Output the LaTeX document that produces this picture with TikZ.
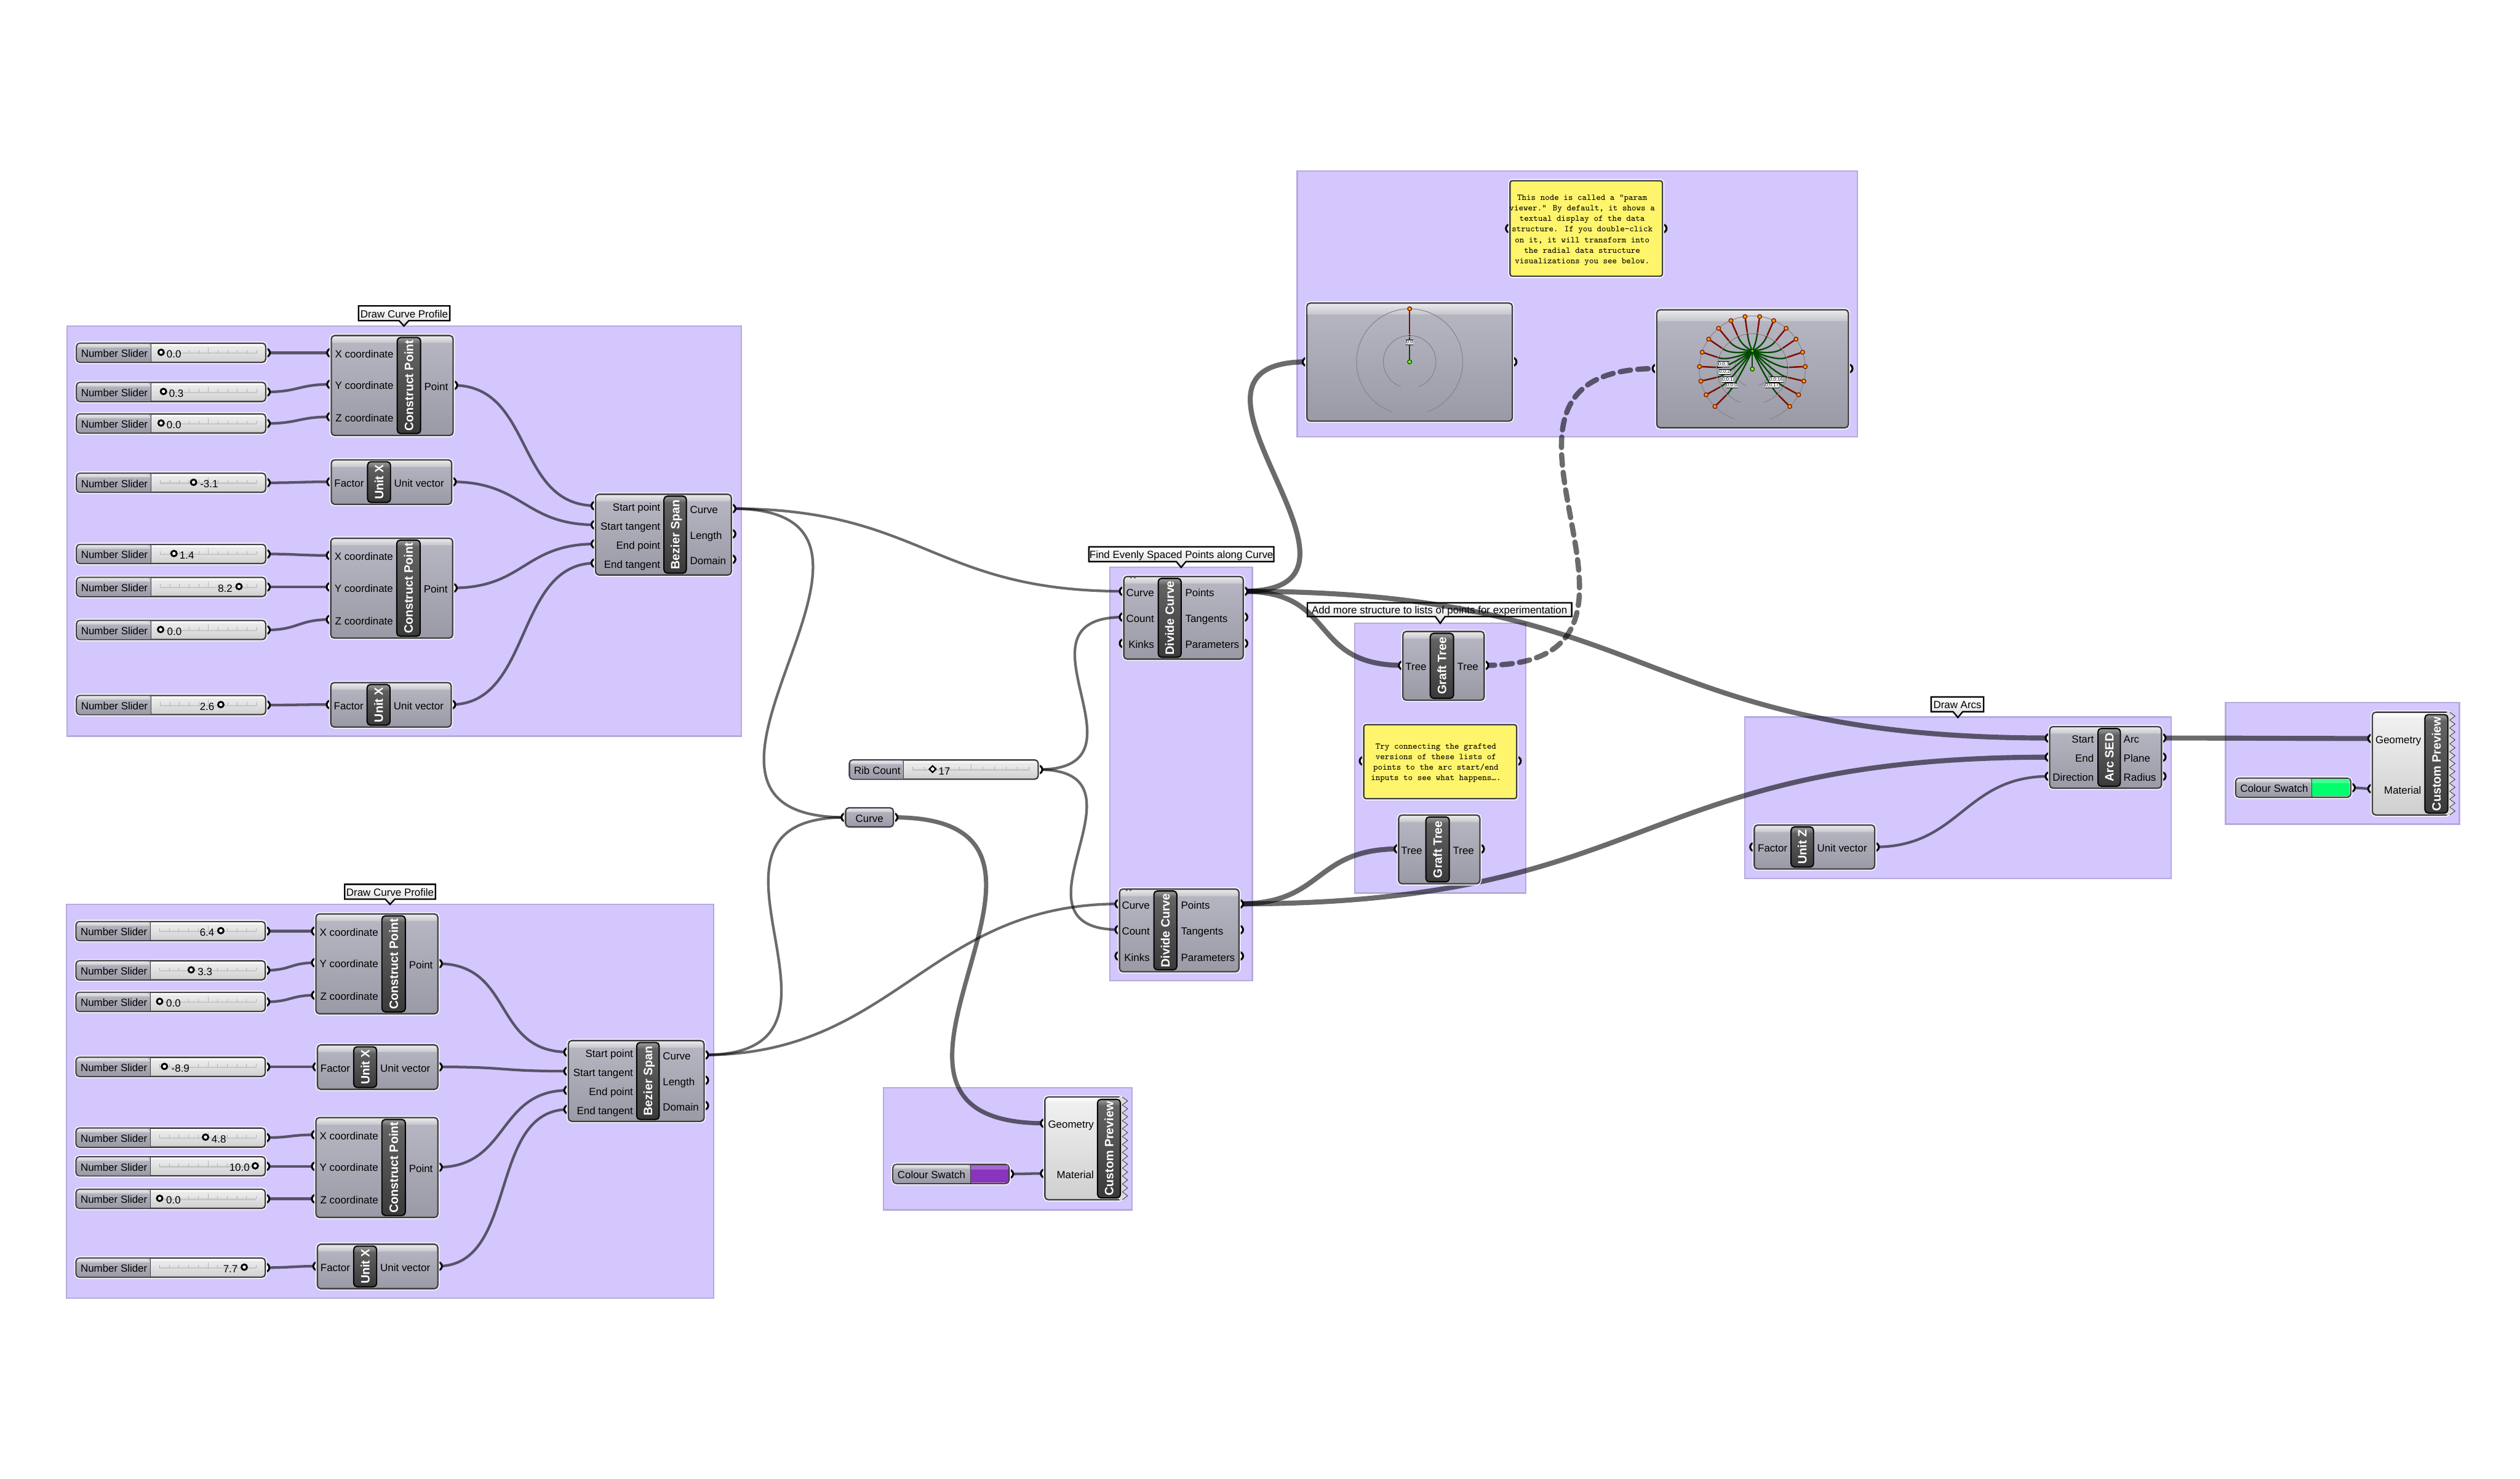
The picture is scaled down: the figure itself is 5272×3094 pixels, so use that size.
\documentclass[tikz,border=0pt]{standalone}
\usepackage{fontspec}
\setmainfont{Liberation Sans}
\usetikzlibrary{calc}
\pgfdeclarelayer{bg}\pgfdeclarelayer{wir}\pgfdeclarelayer{prt}
\pgfsetlayers{bg,wir,prt,main}
\definecolor{grp}{HTML}{D4C7FD}
\definecolor{grpedge}{HTML}{B5ABDD}
\definecolor{edge}{HTML}{404044}
\definecolor{gtop}{HTML}{B8B8C4}
\definecolor{gbot}{HTML}{9A9AA6}
\definecolor{htop}{HTML}{E8E8EA}
\definecolor{hbot}{HTML}{C6C6CC}
\definecolor{ltop}{HTML}{F2F2F2}
\definecolor{lbot}{HTML}{CFCFCF}
\definecolor{bartop}{HTML}{666666}
\definecolor{barbot}{HTML}{3A3A3A}
\definecolor{noteyel}{HTML}{FFF56C}
\definecolor{gwire}{HTML}{004A00}
\definecolor{rwire}{HTML}{7A0E00}
\definecolor{tipor}{HTML}{FFA000}
\definecolor{hubgr}{HTML}{90EE20}
\definecolor{ringc}{HTML}{85858F}
\definecolor{purp}{HTML}{8A33BE}
\definecolor{mint}{HTML}{00FF6E}
\tikzset{
 group/.style={rectangle,inner sep=0,fill=grp,draw=grpedge,line width=.03cm},
 tagst/.style={top color=white,bottom color=black!14,draw=black,line width=.03cm},
 body/.style={rectangle,inner sep=0,rounded corners=.07cm,draw=edge,line width=.03cm,top color=gtop,bottom color=gbot,preaction={draw=white,line width=.07cm}},
 lightbody/.style={body,top color=ltop,bottom color=lbot},
 notest/.style={rectangle,inner sep=0,rounded corners=.05cm,draw=edge,line width=.03cm,fill=noteyel,preaction={draw=white,line width=.07cm}},
 barst/.style={rectangle,inner sep=0,rounded corners=.07cm,draw=black,line width=.025cm,top color=bartop,bottom color=barbot},
 port/.style={circle,inner sep=0,minimum size=.17cm,draw=black,fill=white,line width=.04cm},
 lbl/.style={inner sep=0,yshift=-.025cm,text=black,font=\fontsize{6.2}{7.4}\selectfont,text height=.16cm,text depth=.04cm},
 bartxt/.style={inner sep=0,text=white,rotate=90,font=\fontsize{7.2}{8}\selectfont\bfseries,text height=.18cm,text depth=.0cm},
 notetxt/.style={inner sep=0,yshift=-.025cm,align=center,text=black,font=\ttfamily\fontsize{5.2}{6.26}\selectfont},
 wirest/.style={draw=black,draw opacity=.58,line width=.055cm},
 fat/.style={line width=.105cm},
 mid/.style={line width=.09cm},
 dashwire/.style={line width=.11cm,dash pattern=on .22cm off .15cm,line cap=round},
 ring/.style={circle,inner sep=0,minimum size=.115cm,draw=black,fill=white,line width=.038cm},
 tick/.style={draw=black!30,line width=.012cm},
 tipn/.style={circle,inner sep=0,minimum size=.085cm,draw=rwire,fill=tipor,line width=.016cm},
 hubn/.style={circle,inner sep=0,minimum size=.085cm,draw=gwire,fill=hubgr,line width=.016cm},
 midn/.style={circle,inner sep=0,minimum size=.045cm,fill=rwire},
 plab/.style={inner sep=0,fill=white,minimum height=.095cm,text=black,font=\fontsize{2.9}{3.2}\selectfont},
 gridl/.style={draw=ringc,line width=.014cm},
}
% ---- helpers
\newcommand\boxn[6][body]{\pgfmathsetmacro\bw{((#5)-(#3))*0.01}\pgfmathsetmacro\bh{((#6)-(#4))*0.01}%
 \node[#1,minimum width=\bw cm,minimum height=\bh cm] (#2) at ({((#3)+(#5))/2},{((#4)+(#6))/2}) {};}
\newcommand\gloss[6]{% x0 y0 x1 h top bot
 \path[top color=#5,bottom color=#6] ({(#1)+2},{(#2)+(#4)}) [rounded corners=.05cm] -- ({(#1)+2},{(#2)+2}) -- ({(#3)-2},{(#2)+2}) [sharp corners] -- ({(#3)-2},{(#2)+(#4)}) -- cycle;}
\newcommand\cbar[6]{% name x0 y0 x1 y1 title
 \boxn[barst]{#1}{#2}{#3}{#4}{#5}\gloss{#2}{#3}{#4}{13}{black!42}{black!60}%
 \node[bartxt] (#1-t) at ({((#2)+(#4))/2},{((#3)+(#5))/2}) {#6};}
\newcommand\comp[8]{% name x0 y0 x1 y1 bx0 bx1 title
 \boxn{#1}{#2}{#3}{#4}{#5}\gloss{#2}{#3}{#4}{15}{htop}{hbot}%
 \cbar{#1-bar}{#6}{(#3)+4}{#7}{(#5)-4}{#8}}
\newcommand\pinl[5]{% name x y textx text
 \begin{pgfonlayer}{prt}\node[port] (#1) at ({#2},{#3}) {};\end{pgfonlayer}%
 \node[lbl,anchor=east] (#1-l) at ({#4},{(#3)+2}) {#5};}
\newcommand\pinr[5]{%
 \begin{pgfonlayer}{prt}\node[port] (#1) at ({#2},{#3}) {};\end{pgfonlayer}%
 \node[lbl,anchor=west] (#1-l) at ({#4},{(#3)+2}) {#5};}
\newcommand\CP[3]{\comp{#1}{#2}{#3}{(#2)+255}{(#3)+209}{(#2)+138}{(#2)+187}{Construct Point}%
 \pinl{#1-x}{#2}{(#3)+36}{(#2)+131}{X coordinate}%
 \pinl{#1-y}{#2}{(#3)+102}{(#2)+131}{Y coordinate}%
 \pinl{#1-z}{#2}{(#3)+170}{(#2)+131}{Z coordinate}%
 \pinr{#1-o}{(#2)+255}{(#3)+104}{(#2)+194}{Point}}
\newcommand\UV[4]{\comp{#1}{#2}{#3}{(#2)+252}{(#3)+93}{(#2)+76}{(#2)+124}{#4}%
 \pinl{#1-i}{#2}{(#3)+46}{(#2)+69}{Factor}%
 \pinr{#1-o}{(#2)+252}{(#3)+46}{(#2)+131}{Unit vector}}
\newcommand\BZ[3]{\comp{#1}{#2}{#3}{(#2)+284}{(#3)+169}{(#2)+143}{(#2)+190}{Bezier Span}%
 \pinl{#1-a}{#2}{(#3)+24}{(#2)+136}{Start point}%
 \pinl{#1-b}{#2}{(#3)+64}{(#2)+136}{Start tangent}%
 \pinl{#1-c}{#2}{(#3)+104}{(#2)+136}{End point}%
 \pinl{#1-d}{#2}{(#3)+144}{(#2)+136}{End tangent}%
 \pinr{#1-o}{(#2)+284}{(#3)+30}{(#2)+197}{Curve}%
 \pinr{#1-p}{(#2)+284}{(#3)+83}{(#2)+197}{Length}%
 \pinr{#1-q}{(#2)+284}{(#3)+136}{(#2)+197}{Domain}}
\newcommand\DV[3]{\comp{#1}{#2}{#3}{(#2)+250}{(#3)+173}{(#2)+72}{(#2)+120}{Divide Curve}%
 \fill[black!65] ({(#2)+15},{(#3)+2}) circle[radius=.025cm] ({(#2)+23},{(#3)+2}) circle[radius=.025cm];%
 \pinl{#1-a}{#2}{(#3)+31}{(#2)+64}{Curve}%
 \pinl{#1-b}{#2}{(#3)+85}{(#2)+64}{Count}%
 \pinl{#1-c}{#2}{(#3)+140}{(#2)+64}{Kinks}%
 \pinr{#1-o}{(#2)+250}{(#3)+31}{(#2)+128}{Points}%
 \pinr{#1-p}{(#2)+250}{(#3)+85}{(#2)+128}{Tangents}%
 \pinr{#1-q}{(#2)+250}{(#3)+140}{(#2)+128}{Parameters}}
\newcommand\GT[3]{\comp{#1}{#2}{#3}{(#2)+170}{(#3)+144}{(#2)+57}{(#2)+106}{Graft Tree}%
 \pinl{#1-i}{#2}{(#3)+71}{(#2)+50}{Tree}%
 \pinr{#1-o}{(#2)+170}{(#3)+71}{(#2)+113}{Tree}}
\newcommand\sldbody[6]{% name x0 x1 xdiv yc label
 \boxn[lightbody]{#1}{#2}{(#5)-20}{#3}{(#5)+20}%
 \gloss{#2}{(#5)-20}{#3}{9}{white}{black!12}%
 \path[top color=gtop,bottom color=gbot] ({#4},{(#5)-19}) [rounded corners=.05cm] -- ({(#2)+2},{(#5)-19}) -- ({(#2)+2},{(#5)+19}) [sharp corners] -- ({#4},{(#5)+19}) -- cycle;%
 \gloss{#2}{(#5)-20}{#4}{9}{htop}{hbot}%
 \draw[edge,line width=.015cm] ({#4},{(#5)-20}) -- ({#4},{(#5)+20});%
 \node[lbl,anchor=west] (#1-l) at ({(#2)+9},{(#5)+1}) {#6};}
\newcommand\railticks[3]{% x0 x1 yc
 \draw[black!22,line width=.03cm] ({#1},{(#3)+1}) -- ({#2},{(#3)+1});%
 \foreach \k in {0,...,10}{\pgfmathsetmacro\tkx{(#1)+\k*((#2)-(#1))/10}\pgfmathsetmacro\tky{ifthenelse(\k==5,11,6)}%
 \draw[tick] (\tkx,{(#3)+1}) -- (\tkx,{(#3)-\tky});}}
\newcommand\NS[7]{% name x0 yc hx anchor tx val
 \sldbody{#1}{#2}{(#2)+396}{(#2)+156}{#3}{Number Slider}%
 \railticks{(#2)+175}{(#2)+377}{#3}%
 \node[ring] (#1-h) at (#4,{(#3)-1}) {};%
 \node[lbl,anchor=#5] (#1-v) at (#6,{(#3)+2}) {#7};%
 \begin{pgfonlayer}{prt}\node[port] (#1) at ({(#2)+396},#3) {};\end{pgfonlayer}}
\newcommand\SW[6]{% name x0 x1 xdiv yc color
 \sldbody{#1}{#2}{#3}{#4}{#5}{Colour Swatch}%
 \path[fill=#6] ({#4},{(#5)-18}) -- ({(#3)-2},{(#5)-18}) -- ({(#3)-2},{(#5)+18}) -- ({#4},{(#5)+18}) -- cycle;%
 \path[fill=#6!75!white] ({#4},{(#5)-18}) -- ({(#3)-2},{(#5)-18}) -- ({(#3)-2},{(#5)-9}) -- ({#4},{(#5)-9}) -- cycle;%
 \begin{pgfonlayer}{prt}\node[port] (#1-o) at ({#3},#5) {};\end{pgfonlayer}}
\newcommand\PV[3]{% name x0 y0
 \boxn[lightbody]{#1}{#2}{#3}{(#2)+162}{(#3)+215}%
 \gloss{#2}{#3}{(#2)+160}{15}{white}{black!8}%
 \fill[black!14] ({(#2)+155},{#3}) -- ({(#2)+155},{(#3)+215}) -- ({(#2)+162},{(#3)+215})
   \foreach \i in {1,...,13}{ -- ++(11,-8.27) -- ++(-11,-8.27)} -- cycle;%
 \draw[edge,line width=.012cm,fill=none] ({(#2)+162},{(#3)+215})
   \foreach \i in {1,...,13}{ -- ++(11,-8.27) -- ++(-11,-8.27)};%
 \cbar{#1-bar}{(#2)+110}{(#3)+5}{(#2)+158}{(#3)+211}{Custom Preview}%
 \pinl{#1-g}{#2}{(#3)+55}{(#2)+103}{Geometry}%
 \pinl{#1-m}{#2}{(#3)+160}{(#2)+103}{Material}}
\newcommand\tagb[7]{% name x0 y0 x1 y1 tip-x tip-y
 \draw[tagst] ({#2},{#3}) -- ({#4},{#3}) -- ({#4},{#5}) -- ({(#6)+10},{#5}) -- ({#6},{#7}) -- ({(#6)-10},{#5}) -- ({#2},{#5}) -- cycle;}
\newcommand\plabel[4]{% name x y text
 \node[plab] (#1) at (#2,#3) {#4};\draw[black,line width=.008cm] (#1.north west)--(#1.north east) (#1.south west)--(#1.south east);}
\newcommand\wire[4][]{\draw[wirest,#1] (#2.center) .. controls +(#4,0) and +(-#4,0) .. (#3.center);}
\newcommand\rings[3]{% cx cy list-of-radii
 \foreach \r in {#3}{\draw[gridl] plot[smooth,domain=-70.6:250.6,samples=70] ({(#1)+\r*cos(\x)},{(#2)-\r*sin(\x)});}}

\begin{document}
\begin{tikzpicture}[x=0.01cm,y=-0.01cm]
\useasboundingbox (0,0) rectangle (5272,3094);
\begin{pgfonlayer}{bg}
\fill[white] (0,0) rectangle (5272,3094);
\boxn[group]{g1}{140}{682}{1551}{1540}
\boxn[group]{g2}{139}{1892}{1493}{2716}
\boxn[group]{g3}{2322}{1187}{2620}{2052}
\boxn[group]{g4}{2834}{1304}{3192}{1868}
\boxn[group]{g5}{2714}{358}{3886}{914}
\boxn[group]{g6}{3650}{1500}{4542}{1838}
\boxn[group]{g7}{4656}{1470}{5145}{1724}
\boxn[group]{g8}{1848}{2276}{2368}{2531}
\tagb{t1}{750}{640}{941}{671}{845}{682}
\node[lbl] (t1t) at (845.5,656) {Draw Curve Profile};
\tagb{t2}{721}{1850}{911}{1881}{816}{1892}
\node[lbl] (t2t) at (816,1866) {Draw Curve Profile};
\tagb{t3}{2278}{1144}{2665}{1175}{2471}{1187}
\node[lbl] (t3t) at (2471.5,1160) {Find Evenly Spaced Points along Curve};
\tagb{t4}{2735}{1261}{3288}{1290}{3013}{1304}
\node[lbl] (t4t) at (3011.5,1276) {Add more structure to lists of points for experimentation};
\tagb{t5}{4040}{1458}{4150}{1489}{4096}{1501}
\node[lbl] (t5t) at (4095,1474) {Draw Arcs};
\end{pgfonlayer}

% ---- group 1
\NS{s1}{160}{738}{337}{west}{348}{0.0}
\NS{s2}{160}{820}{342}{west}{353}{0.3}
\NS{s3}{160}{886}{337}{west}{348}{0.0}
\NS{s4}{160}{1010}{405}{west}{418}{-3.1}
\NS{s5}{160}{1159}{364}{west}{375}{1.4}
\NS{s6}{160}{1228}{500}{east}{487}{8.2}
\NS{s7}{160}{1318}{336}{west}{349}{0.0}
\NS{s8}{160}{1475}{462}{east}{449}{2.6}
\CP{c1}{693}{702}
\UV{u1}{693}{962}{Unit X}
\CP{c2}{692}{1126}
\UV{u2}{692}{1428}{Unit X}
\BZ{b1}{1246}{1034}
% ---- group 2
\NS{s9}{159}{1948}{462}{east}{449}{6.4}
\NS{s10}{159}{2030}{400}{west}{413}{3.3}
\NS{s11}{159}{2096}{334}{west}{347}{0.0}
\NS{s12}{159}{2232}{344}{west}{358}{-8.9}
\NS{s13}{159}{2380}{430}{west}{442}{4.8}
\NS{s14}{159}{2440}{534}{east}{523}{10.0}
\NS{s15}{159}{2508}{334}{west}{347}{0.0}
\NS{s16}{159}{2652}{511}{east}{498}{7.7}
\CP{c3}{661}{1912}
\UV{u3}{664}{2186}{Unit X}
\CP{c4}{661}{2338}
\UV{u4}{664}{2603}{Unit X}
\BZ{b2}{1189}{2177}
% ---- rib count and curve parameter
\sldbody{rib}{1777}{2172}{1890}{1610}{Rib Count}
\railticks{1910}{2153}{1610}
\node[rectangle,rotate=45,inner sep=0,minimum size=.095cm,draw=black,fill=white,line width=.03cm] (rib-h) at (1951,1609) {};
\node[lbl,anchor=west] (rib-v) at (1963,1612) {17};
\begin{pgfonlayer}{prt}\node[port] (rib-o) at (2172,1610) {};\end{pgfonlayer}
\boxn{crv}{1769}{1690}{1869}{1730}
\gloss{1769}{1690}{1869}{9}{htop}{hbot}
\node[lbl] (crv-l) at (1819,1712) {Curve};
\begin{pgfonlayer}{prt}\node[port] (crv-i) at (1769,1710) {};\node[port] (crv-o) at (1869,1710) {};\end{pgfonlayer}
% ---- divide
\DV{d1}{2351}{1206}
\DV{d2}{2342}{1860}
% ---- graft + note
\GT{gt1}{2935}{1321}
\GT{gt2}{2926}{1705}
\boxn[notest]{n2}{2853}{1516}{3173}{1671}
\node[notetxt] (n2t) at (3004,1594) {Try connecting the grafted\\versions of these lists of\\points to the arc start/end\\inputs to see what happens….};
\begin{pgfonlayer}{prt}\node[port] (n2i) at (2853,1592) {};\node[port] (n2o) at (3173,1592) {};\end{pgfonlayer}
% ---- note 1
\boxn[notest]{n1}{3159}{378}{3478}{578}
\node[notetxt] (n1t) at (3310,479) {This node is called a “param\\viewer.” By default, it shows a\\textual display of the data\\structure. If you double-click\\on it, it will transform into\\the radial data structure\\visualizations you see below.};
\begin{pgfonlayer}{prt}\node[port] (n1i) at (3159,478) {};\node[port] (n1o) at (3478,478) {};\end{pgfonlayer}
% ---- viewers
\boxn{v1}{2734}{634}{3164}{881}
\gloss{2734}{634}{3164}{24}{htop}{hbot}
\begin{pgfonlayer}{prt}\node[port] (v1i) at (2734,757) {};\node[port] (v1o) at (3164,757) {};\end{pgfonlayer}
\rings{2949}{757}{55,111}
\node[midn] (v1m) at (2949,702) {};
\node[hubn] (v1h) at (2949,757) {};
\draw[gwire,line width=.03cm] (v1h) -- (v1m);
\node[tipn] (v1t) at (2949,646) {};
\draw[rwire,line width=.03cm] (v1m) -- (v1t);
\plabel{v1l}{2949}{716}{0;0}

\boxn{v2}{3466}{648}{3867}{895}
\gloss{3466}{648}{3867}{24}{htop}{hbot}
\begin{pgfonlayer}{prt}\node[port] (v2i) at (3466,771) {};\node[port] (v2o) at (3867,771) {};\end{pgfonlayer}
\rings{3666}{772}{37,74,111}
\coordinate (v2hubc) at (3666,734);
\foreach \i in {0,...,17}{
 \pgfmathsetmacro\a{225-\i*270/17}
 \pgfmathsetmacro\mx{3666+73.5*cos(\a)}\pgfmathsetmacro\my{772-73.5*sin(\a)}
 \pgfmathsetmacro\cx{3666+50*cos(\a)}\pgfmathsetmacro\cy{772-50*sin(\a)}
 \pgfmathsetmacro\tx{3666+110.7*cos(\a)}\pgfmathsetmacro\ty{772-110.7*sin(\a)}
 \node[midn] (v2m\i) at (\mx,\my) {};
 \draw[gwire,line width=.03cm] (v2hubc) .. controls (v2hubc) and (\cx,\cy) .. (v2m\i.center);
 \node[tipn] (v2t\i) at (\tx,\ty) {};
 \draw[rwire,line width=.032cm] (v2m\i) -- (v2t\i);
}
\node[hubn] (v2b) at (3666,772) {};
\draw[gwire,line width=.03cm] (v2hubc) -- (v2b);
\node[hubn,minimum size=.06cm] (v2hub) at (3666,734) {};
\plabel{v2l3}{3606}{762}{0;0;3}
\plabel{v2l2}{3608}{778}{0;0;2}
\plabel{v2l1}{3614}{794}{0;0;1}
\plabel{v2l0}{3623}{806}{0;0;0}
\plabel{v2l16}{3716}{794}{0;0;16}
\plabel{v2l17}{3707}{806}{0;0;17}
% ---- arcs
\comp{arc}{4288}{1520}{4522}{1649}{4389}{4436}{Arc SED}
\pinl{arc-s}{4288}{1544}{4381}{Start}
\pinl{arc-e}{4288}{1584}{4381}{End}
\pinl{arc-d}{4288}{1624}{4381}{Direction}
\pinr{arc-o}{4522}{1544}{4442}{Arc}
\pinr{arc-p}{4522}{1584}{4442}{Plane}
\pinr{arc-r}{4522}{1624}{4442}{Radius}
\comp{uz}{3670}{1726}{3922}{1818}{3747}{3794}{Unit Z}
\pinl{uz-i}{3670}{1772}{3740}{Factor}
\pinr{uz-o}{3922}{1772}{3801}{Unit vector}
% ---- previews
\PV{p2}{4963}{1490}
\SW{sw2}{4677}{4918}{4837}{1648}{mint}
\PV{p1}{2186}{2295}
\SW{sw1}{1868}{2111}{2031}{2456}{purp}

% ---- wires
\begin{pgfonlayer}{wir}
\wire{s1}{c1-x}{70}\wire{s2}{c1-y}{70}\wire{s3}{c1-z}{70}\wire{s4}{u1-i}{70}
\wire{s5}{c2-x}{70}\wire{s6}{c2-y}{70}\wire{s7}{c2-z}{70}\wire{s8}{u2-i}{70}
\wire{c1-o}{b1-a}{170}\wire{u1-o}{b1-b}{150}\wire{c2-o}{b1-c}{150}\wire{u2-o}{b1-d}{170}
\wire{s9}{c3-x}{55}\wire{s10}{c3-y}{55}\wire{s11}{c3-z}{55}\wire{s12}{u3-i}{55}
\wire{s13}{c4-x}{55}\wire{s14}{c4-y}{55}\wire{s15}{c4-z}{55}\wire{s16}{u4-i}{55}
\wire{c3-o}{b2-a}{160}\wire{u3-o}{b2-b}{150}\wire{c4-o}{b2-c}{150}\wire{u4-o}{b2-d}{170}
\wire{b1-o}{d1-a}{400}\wire{b1-o}{crv-i}{470}
\wire{b2-o}{crv-i}{382}\wire{b2-o}{d2-a}{400}
\wire{rib-o}{d1-b}{252}\wire{rib-o}{d2-b}{257}
\wire[mid]{crv-o}{p1-g}{498}
\wire{sw1-o}{p1-m}{35}
\wire[fat]{d1-o}{v1i}{347}
\wire[fat]{d1-o}{gt1-i}{200}
\wire[fat]{d1-o}{arc-s}{880}
\wire[fat]{d2-o}{gt2-i}{180}
\wire[fat]{d2-o}{arc-e}{880}
\wire[dashwire]{gt1-o}{v2i}{476}
\wire{uz-o}{arc-d}{180}
\wire[fat]{arc-o}{p2-g}{200}
\wire{sw2-o}{p2-m}{20}
\end{pgfonlayer}
\end{tikzpicture}
\end{document}
